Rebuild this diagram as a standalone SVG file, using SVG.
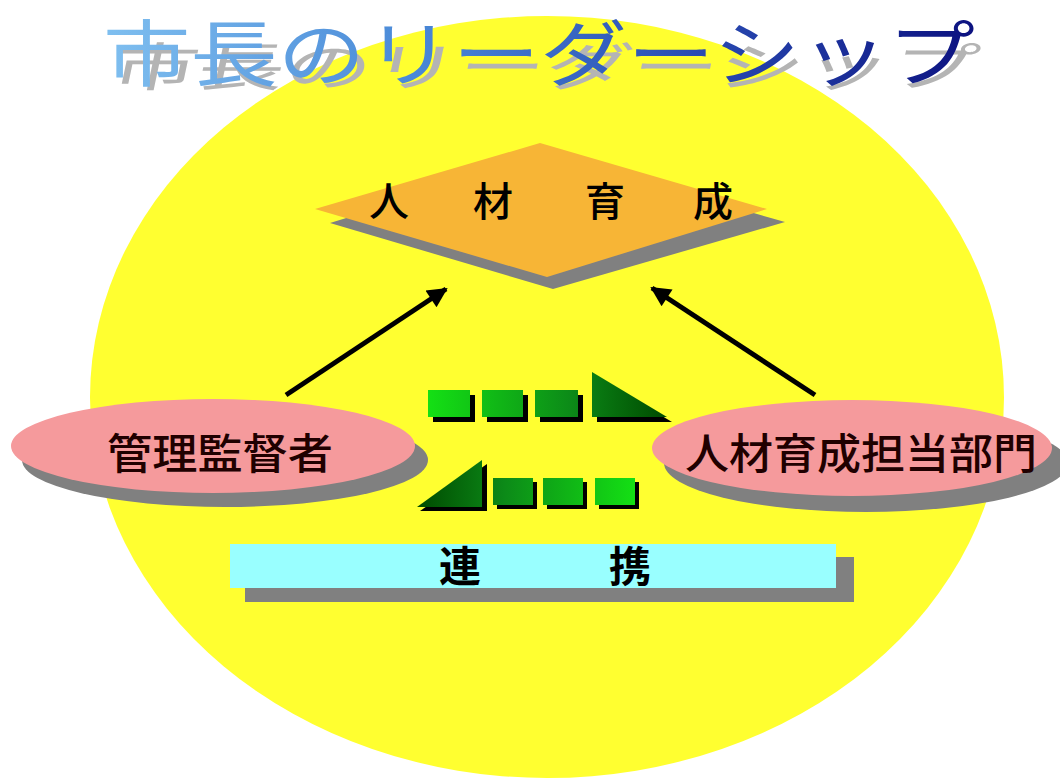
<svg xmlns="http://www.w3.org/2000/svg" width="1060" height="780" viewBox="0 0 1060 780">
<defs>
<linearGradient id="titleGrad" gradientUnits="userSpaceOnUse" x1="100" y1="0" x2="975" y2="0">
<stop offset="0" stop-color="#80c0f0"/>
<stop offset="0.35" stop-color="#4a8ad8"/>
<stop offset="0.7" stop-color="#2848b0"/>
<stop offset="1" stop-color="#0c1280"/>
</linearGradient>
<linearGradient id="topRow" gradientUnits="userSpaceOnUse" x1="428" y1="0" x2="667" y2="0">
<stop offset="0" stop-color="#14e014"/>
<stop offset="0.6" stop-color="#0c8a18"/>
<stop offset="1" stop-color="#004a00"/>
</linearGradient>
<linearGradient id="botRow" gradientUnits="userSpaceOnUse" x1="417" y1="0" x2="635" y2="0">
<stop offset="0" stop-color="#004a00"/>
<stop offset="0.4" stop-color="#0c8a18"/>
<stop offset="1" stop-color="#14e014"/>
</linearGradient>
<marker id="arrow" viewBox="0 0 10 10" refX="9" refY="5" markerWidth="5" markerHeight="4" orient="auto" markerUnits="strokeWidth">
<path d="M0,0 L10,5 L0,10 z" fill="#000"/>
</marker>
</defs>
<style>
.jp { font-family: "Noto Sans CJK JP", "Noto Sans CJK SC", sans-serif; }
.shadow { fill: #808080; }
.pink { fill: #f59a9c; }
.blk { fill: #000; }
.conn { stroke: #000; stroke-width: 5; fill: none; }
</style>
<rect width="1060" height="780" fill="#ffffff"/>
<ellipse id="bg" cx="547" cy="397" rx="457" ry="381" fill="#ffff30"/>

<g id="title">
<text class="jp" x="108" y="86" font-size="72" fill="#b4b4b4" textLength="866" lengthAdjust="spacingAndGlyphs" transform="translate(0,86) skewX(-12) scale(1,0.72) translate(0,-86)">市長のリーダーシップ</text>
<text class="jp" x="103" y="80" font-size="72" fill="url(#titleGrad)" textLength="872" lengthAdjust="spacingAndGlyphs">市長のリーダーシップ</text>
</g>

<g id="connectors">
<line class="conn" x1="286" y1="395" x2="446" y2="289" marker-end="url(#arrow)"/>
<line class="conn" x1="815" y1="395" x2="652" y2="288" marker-end="url(#arrow)"/>
</g>

<g id="node-jinzai">
<polygon class="shadow" points="552,155 785,222 553,289 330,223"/>
<polygon fill="#f7b536" points="540,143 767,209 547,277 315,209"/>
<text class="jp" y="216" font-size="40" font-weight="500" fill="#000" text-anchor="middle"><tspan x="389">人</tspan><tspan x="493">材</tspan><tspan x="605">育</tspan><tspan x="713">成</tspan></text>
</g>

<g id="node-kanri">
<ellipse class="shadow" cx="225" cy="460" rx="203" ry="47"/>
<ellipse class="pink" cx="213" cy="446" rx="202" ry="47"/>
<text class="jp" x="107" y="469" font-size="42" font-weight="500" fill="#200000" textLength="226" lengthAdjust="spacingAndGlyphs">管理監督者</text>
</g>

<g id="node-tanto">
<ellipse class="shadow" cx="866" cy="463" rx="202" ry="49"/>
<ellipse class="pink" cx="852" cy="448" rx="200" ry="48"/>
<text class="jp" x="685" y="469" font-size="42" font-weight="500" fill="#200000" textLength="352" lengthAdjust="spacingAndGlyphs">人材育成担当部門</text>
</g>

<g id="blocks-top">
<rect class="blk" x="433" y="395" width="42" height="27"/>
<rect class="blk" x="487" y="395" width="41" height="27"/>
<rect class="blk" x="540" y="395" width="43" height="27"/>
<polygon class="blk" points="597,377 597,422 672,422"/>
<rect fill="url(#topRow)" x="428" y="390" width="42" height="27"/>
<rect fill="url(#topRow)" x="482" y="390" width="41" height="27"/>
<rect fill="url(#topRow)" x="535" y="390" width="43" height="27"/>
<polygon fill="url(#topRow)" points="592,372 592,417 667,417"/>
</g>

<g id="blocks-bottom">
<polygon class="blk" points="487,464 487,511 420,511"/>
<rect class="blk" x="497" y="482" width="40" height="27"/>
<rect class="blk" x="547" y="482" width="40" height="27"/>
<rect class="blk" x="599" y="482" width="40" height="27"/>
<polygon fill="url(#botRow)" points="482,460 482,507 417,507"/>
<rect fill="url(#botRow)" x="493" y="478" width="40" height="27"/>
<rect fill="url(#botRow)" x="543" y="478" width="40" height="27"/>
<rect fill="url(#botRow)" x="595" y="478" width="40" height="27"/>
</g>

<g id="node-renkei">
<rect class="shadow" x="245" y="557" width="609" height="45"/>
<rect fill="#99ffff" x="230" y="544" width="606" height="44"/>
<text class="jp" y="582" font-size="42" font-weight="bold" fill="#000" text-anchor="middle"><tspan x="460">連</tspan><tspan x="630">携</tspan></text>
</g>
</svg>
